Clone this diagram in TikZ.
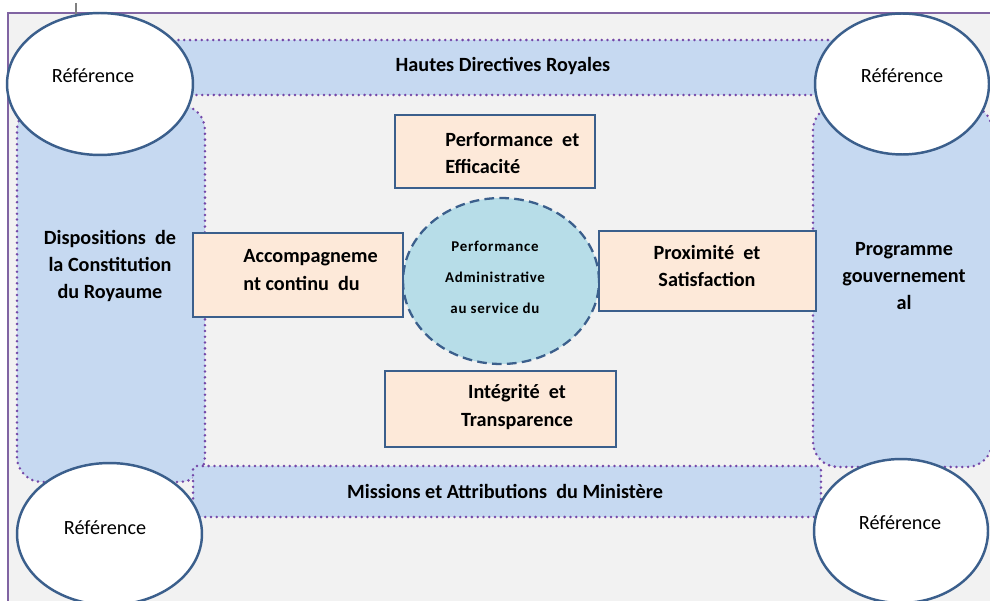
\documentclass[tikz,border=0pt]{standalone}
\usepackage{fontspec}
\setmainfont{Carlito}
\usetikzlibrary{shapes.geometric}

\definecolor{framegray}{HTML}{F2F2F2}
\definecolor{framepurple}{HTML}{8064A2}
\definecolor{dotpurple}{HTML}{7447A8}
\definecolor{bandblue}{HTML}{C6D9F1}
\definecolor{edgeblue}{HTML}{3B5F8C}
\definecolor{boxpeach}{HTML}{FDE9D9}
\definecolor{coreblue}{HTML}{B7DDE8}

\tikzset{
	band/.style = {rectangle, fill = bandblue, draw = dotpurple, line width = 1.6pt, line cap = round, dash pattern = on 0pt off 3.3pt, inner sep = 0pt},
	refellipse/.style = {ellipse, fill = white, draw = edgeblue, line width = 1.4pt, inner sep = 0pt},
	valuebox/.style = {rectangle, fill = boxpeach, draw = edgeblue, line width = 1.4pt, inner sep = 0pt},
	coreellipse/.style = {ellipse, fill = coreblue, draw = edgeblue, line width = 1.3pt, dash pattern = on 5.5pt off 3pt, inner sep = 0pt},
	boldtext/.style = {inner sep = 0pt, font = \bfseries\fontsize{11.5}{15.5}\selectfont},
	reftext/.style = {inner sep = 0pt, font = \fontsize{11.5}{15.5}\selectfont}
}

\begin{document}
\begin{tikzpicture}[x = 0.02cm, y = -0.02cm]
	\clip (0, 0) rectangle (990, 601);
	\fill [white] (0, 0) rectangle (990, 601);
	\draw [framepurple, fill = framegray, line width = 0.6pt] (8, 13) rectangle (1005, 615);
	\draw [gray, line width = 0.6pt] (76, 3) -- (76, 26);

	\node [band, rounded corners = 0.5cm, minimum width = 3.76cm, minimum height = 7.54cm] (leftpanel) at (111, 293.5) {};
	\node [band, rounded corners = 0.5cm, minimum width = 3.58cm, minimum height = 7.24cm] (rightpanel) at (902.5, 286) {};
	\node [band, minimum width = 14cm, minimum height = 1.1cm] (topband) at (500, 67.5) {};
	\node [band, rounded corners = 2pt, minimum width = 12.56cm, minimum height = 1.02cm] (bottomband) at (507, 491.5) {};

	\node [boldtext] (toptext) at (503, 66) {Hautes Directives Royales};
	\node [boldtext] (bottomtext) at (505, 491) {Missions et Attributions\ \ du Ministère};
	\node [boldtext, align = center] (lefttext) at (110, 266) {Dispositions\ \ de\\la Constitution\\du Royaume};
	\node [boldtext, align = center] (righttext) at (904, 276) {Programme\\gouvernement\\al};

	\node [refellipse, minimum width = 3.72cm, minimum height = 2.84cm] (refTL) at (100, 84) {};
	\node [refellipse, minimum width = 3.48cm, minimum height = 2.82cm] (refTR) at (902, 84) {};
	\node [refellipse, minimum width = 3.7cm, minimum height = 2.84cm] (refBL) at (109.5, 534) {};
	\node [refellipse, minimum width = 3.48cm, minimum height = 2.88cm] (refBR) at (901, 531) {};
	\node [reftext] (refTLtext) at (93, 76) {Référence};
	\node [reftext] (refTRtext) at (902, 76) {Référence};
	\node [reftext] (refBLtext) at (105, 528) {Référence};
	\node [reftext] (refBRtext) at (900, 523) {Référence};

	\node [coreellipse, minimum width = 3.92cm, minimum height = 3.32cm] (core) at (501, 281) {};
	\node [valuebox, minimum width = 4cm, minimum height = 1.46cm] (perfbox) at (495, 151.5) {};
	\node [valuebox, minimum width = 4.2cm, minimum height = 1.68cm] (accbox) at (298, 275) {};
	\node [valuebox, minimum width = 4.34cm, minimum height = 1.6cm] (proxbox) at (707.5, 271) {};
	\node [valuebox, minimum width = 4.62cm, minimum height = 1.52cm] (integbox) at (500.5, 409) {};

	\node [boldtext, align = left, anchor = west] (perftext) at (445, 153) {Performance\ \ et\\Efficacité};
	\node [boldtext, align = left, anchor = west] (acctext) at (243, 270) {Accompagneme\\nt continu\ \ du};
	\node [boldtext, align = center] (proxtext) at (707, 266) {Proximité\ \ et\\Satisfaction};
	\node [boldtext, align = center] (integtext) at (517, 407) {Intégrité\ \ et\\Transparence};
	\node [inner sep = 0pt, align = center, font = \bfseries\fontsize{8.5}{17.6}\selectfont\addfontfeature{LetterSpace=5}] (coretext) at (495, 277) {Performance\\Administrative\\au service du};
\end{tikzpicture}
\end{document}
